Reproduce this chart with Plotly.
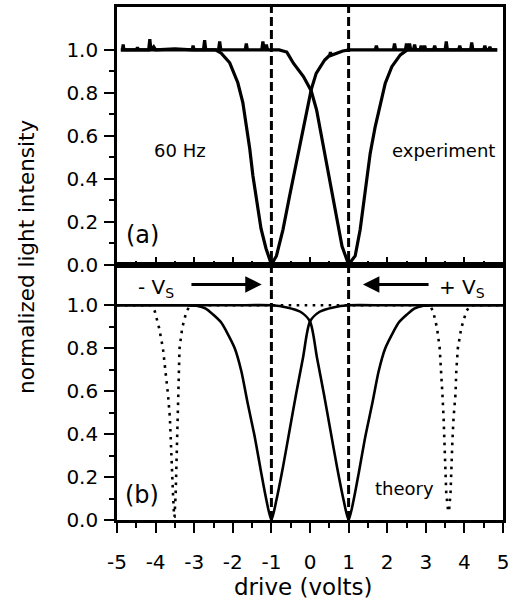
import plotly.graph_objects as go

# ---------------- data ----------------
# (a) experiment, 60 Hz: dip centred near -1 V (with baseline noise spikes)
exp_a_x = [-4.9, -4.86, -4.84, -4.82, -4.5, -4.47, -4.44, -4.18, -4.15, -4.12,
           -4.05, -4.0, -3.5, -3.05, -3.03, -3.0, -2.76, -2.73, -2.7, -2.45,
           -2.3, -2.08, -1.87, -1.74, -1.65, -1.56, -1.48, -1.40, -1.27, -1.14,
           -1.03, -1.0, -0.87, -0.70, -0.53, -0.36, -0.18, -0.055, 0.03, 0.16,
           0.38, 0.51, 0.53, 0.55, 0.68, 0.85, 1.02, 1.69, 1.72, 1.75,
           2.16, 2.19, 2.22, 2.47, 2.5, 2.53, 4.85]
exp_a_y = [1.0, 1.0, 1.025, 1.0, 1.0, 1.012, 1.0, 1.0, 1.05, 1.0,
           1.015, 1.0, 1.005, 1.0, 1.02, 1.0, 1.0, 1.045, 1.0, 1.0,
           0.985, 0.94, 0.847, 0.755, 0.647, 0.538, 0.415, 0.323, 0.168, 0.075,
           0.015, 0.0, 0.04, 0.163, 0.318, 0.473, 0.628, 0.752, 0.814, 0.891,
           0.953, 0.975, 0.99, 0.975, 0.985, 0.995, 1.0, 1.0, 1.02, 1.0,
           1.0, 1.03, 1.0, 1.0, 1.03, 1.0, 1.0]

# (a) experiment: dip centred near +1 V
exp_b_x = [-4.9, -2.37, -2.34, -2.31, -1.68, -1.65, -1.62, -1.25, -1.22, -1.19,
           -1.16, -1.13, -1.1, -0.8, -0.6, -0.43, -0.17, 0.03, 0.17, 0.30,
           0.43, 0.56, 0.69, 0.83, 1.0, 1.17, 1.30, 1.43, 1.56, 1.69,
           1.82, 1.95, 2.12, 2.34, 2.52, 2.55, 2.58, 2.61, 2.68, 2.71,
           2.74, 2.85, 2.88, 2.91, 2.94, 2.97, 3.0, 3.2, 3.23, 3.26,
           3.5, 3.53, 3.56, 3.85, 3.88, 3.91, 4.16, 4.19, 4.22, 4.5,
           4.53, 4.56, 4.63, 4.66, 4.69, 4.85]
exp_b_y = [1.0, 1.0, 1.04, 1.0, 1.0, 1.03, 1.0, 1.0, 1.04, 1.0,
           1.0, 1.025, 1.0, 1.0, 0.99, 0.938, 0.876, 0.81, 0.721, 0.597,
           0.473, 0.349, 0.209, 0.085, 0.0, 0.04, 0.163, 0.349, 0.519, 0.643,
           0.752, 0.845, 0.922, 0.977, 1.0, 1.0, 1.03, 1.0, 1.0, 1.025,
           1.0, 1.0, 1.02, 1.0, 1.0, 1.02, 1.0, 1.0, 1.02, 1.0,
           1.0, 1.04, 1.0, 1.0, 1.02, 1.0, 1.0, 1.035, 1.0, 1.0,
           1.02, 1.0, 1.0, 1.015, 1.0, 1.0]

# (b) theory: solid curves
theory_a_x = [-5.0, -4.0, -3.2, -2.94, -2.7, -2.51, -2.3, -2.17, -1.95, -1.78,
              -1.61, -1.43, -1.26, -1.13, -1.0, -0.87, -0.70, -0.53, -0.36, -0.18,
              0.0, 0.25, 0.6, 1.0, 2.0, 5.0]
theory_a_y = [1.0, 1.0, 1.0, 0.998, 0.985, 0.957, 0.92, 0.88, 0.8, 0.694,
              0.54, 0.386, 0.216, 0.093, 0.0, 0.093, 0.247, 0.417, 0.587, 0.757,
              0.925, 0.97, 0.99, 1.0, 1.0, 1.0]
theory_b_x = [5.0, 4.0, 3.2, 2.94, 2.7, 2.51, 2.3, 2.17, 1.95, 1.78,
              1.61, 1.43, 1.26, 1.13, 1.0, 0.87, 0.70, 0.53, 0.36, 0.18,
              0.0, -0.25, -0.6, -1.0, -2.0, -5.0]
theory_b_y = theory_a_y[:]

# (b) theory: dotted curve with narrow dips near +/-3.55 V
dotted_x = [-5.0, -4.12, -4.02, -3.91, -3.81, -3.74, -3.68, -3.63, -3.61, -3.57,
            -3.55, -3.52, -3.51, -3.48, -3.46, -3.45, -3.44, -3.42, -3.40, -3.38,
            -3.31, -3.20, -3.1, 3.1, 3.19, 3.29, 3.36, 3.40, 3.43, 3.46,
            3.48, 3.51, 3.53, 3.58, 3.60, 3.64, 3.66, 3.69, 3.72, 3.77,
            3.79, 3.83, 3.92, 4.05, 4.15, 5.0]
dotted_y = [1.0, 1.0, 0.972, 0.895, 0.8, 0.694, 0.587, 0.478, 0.37, 0.247,
            0.123, 0.015, 0.015, 0.123, 0.247, 0.37, 0.478, 0.587, 0.694, 0.8,
            0.895, 0.972, 1.0, 1.0, 0.972, 0.895, 0.8, 0.694, 0.587, 0.478,
            0.37, 0.247, 0.123, 0.04, 0.04, 0.123, 0.247, 0.37, 0.478, 0.587,
            0.694, 0.8, 0.895, 0.972, 1.0, 1.0]

switch_volts = [-1, 1]

x_ticks = [-5, -4, -3, -2, -1, 0, 1, 2, 3, 4, 5]
x_minor = [-4.5, -3.5, -2.5, -1.5, -0.5, 0.5, 1.5, 2.5, 3.5, 4.5]
y_ticks = [0.0, 0.2, 0.4, 0.6, 0.8, 1.0]
y_minor = [0.1, 0.3, 0.5, 0.7, 0.9]

FONT = "DejaVu Sans"
BLACK = "black"

# ---------------- figure ----------------
fig = go.Figure()

for xs, ys in [(exp_a_x, exp_a_y), (exp_b_x, exp_b_y)]:
    fig.add_trace(go.Scatter(x=xs, y=ys, mode="lines", xaxis="x", yaxis="y",
                             line=dict(color=BLACK, width=3.2), showlegend=False,
                             hoverinfo="skip"))

fig.add_trace(go.Scatter(x=dotted_x, y=dotted_y, mode="lines", xaxis="x2", yaxis="y2",
                         line=dict(color=BLACK, width=2.6, dash="2.6px,5.4px"),
                         showlegend=False, hoverinfo="skip"))
for xs, ys in [(theory_a_x, theory_a_y), (theory_b_x, theory_b_y)]:
    fig.add_trace(go.Scatter(x=xs, y=ys, mode="lines", xaxis="x2", yaxis="y2",
                             line=dict(color=BLACK, width=2.6, shape="spline",
                                       smoothing=0.7),
                             showlegend=False, hoverinfo="skip"))

# vertical dashed markers through both panels
for v in switch_volts:
    fig.add_shape(type="line", xref="x2", yref="paper", x0=v, x1=v, y0=0, y1=1,
                  line=dict(color=BLACK, width=3, dash="9px,4px"))

tick_text_x = [str(t) for t in x_ticks]
tick_text_y = [f"{t:.1f}" for t in y_ticks]
tickfont = dict(family=FONT, size=20, color=BLACK)

common_axis = dict(showgrid=False, zeroline=False, showline=True, linewidth=2.6,
                   linecolor=BLACK, mirror=True, tickwidth=2.2, tickcolor=BLACK)

split = 0.498
fig.update_layout(
    width=526, height=608,
    margin=dict(l=117, r=23, t=4, b=88),
    paper_bgcolor="white", plot_bgcolor="white",
    xaxis=dict(domain=[0, 1], anchor="y", range=[-5, 5], tickvals=x_ticks,
               showticklabels=False, ticks="inside", ticklen=8,
               minor=dict(tickvals=x_minor, ticks="inside", ticklen=4,
                          tickwidth=2.2, tickcolor=BLACK),
               **common_axis),
    yaxis=dict(domain=[split, 1], anchor="x", range=[0, 1.2], tickvals=y_ticks,
               ticktext=tick_text_y, ticks="outside", ticklen=10, tickfont=tickfont,
               ticklabelstandoff=2,
               minor=dict(tickvals=y_minor, ticks="outside", ticklen=5,
                          tickwidth=2.2, tickcolor=BLACK),
               **common_axis),
    xaxis2=dict(domain=[0, 1], anchor="y2", range=[-5, 5], tickvals=x_ticks,
                ticktext=tick_text_x, ticks="outside", ticklen=10, tickfont=tickfont,
                ticklabelstandoff=12,
                minor=dict(tickvals=x_minor, ticks="outside", ticklen=5,
                           tickwidth=2.2, tickcolor=BLACK),
                **common_axis),
    yaxis2=dict(domain=[0, split], anchor="x2", range=[0, 1.19], tickvals=y_ticks,
                ticktext=tick_text_y, ticks="outside", ticklen=10, tickfont=tickfont,
                ticklabelstandoff=2,
                minor=dict(tickvals=y_minor, ticks="outside", ticklen=5,
                           tickwidth=2.2, tickcolor=BLACK),
                **common_axis),
)

def label(text, x, y, size, xref="x", yref="y", **kw):
    fig.add_annotation(text=text, x=x, y=y, xref=xref, yref=yref, showarrow=False,
                       xanchor="center", yanchor="middle",
                       font=dict(family=FONT, size=size, color=BLACK), **kw)

# panel texts
label("60 Hz", -3.37, 0.532, 18)
label("experiment", 3.45, 0.532, 18)
label("(a)", -4.35, 0.139, 24)
label("(b)", -4.35, 0.116, 24, xref="x2", yref="y2")
label("theory", 2.46, 0.148, 18, xref="x2", yref="y2")
label("- V<sub>S</sub>", -3.99, 1.08, 20, xref="x2", yref="y2")
label("+ V<sub>S</sub>", 3.94, 1.08, 20, xref="x2", yref="y2")

# sweep-direction arrows
for tail, head in [(-3.11, -1.25), (3.11, 1.37)]:
    fig.add_annotation(x=head, y=1.097, ax=tail, ay=1.097, xref="x2", yref="y2",
                       axref="x2", ayref="y2", showarrow=True, arrowhead=2,
                       arrowsize=1.1, arrowwidth=3, arrowcolor=BLACK, text="")

# axis titles
label("normalized light intensity", -0.233, 0.513, 21.5, xref="paper", yref="paper",
      textangle=-90)
label("drive (volts)", 0.484, -0.131, 23, xref="paper", yref="paper")

fig.write_html("out.html")
